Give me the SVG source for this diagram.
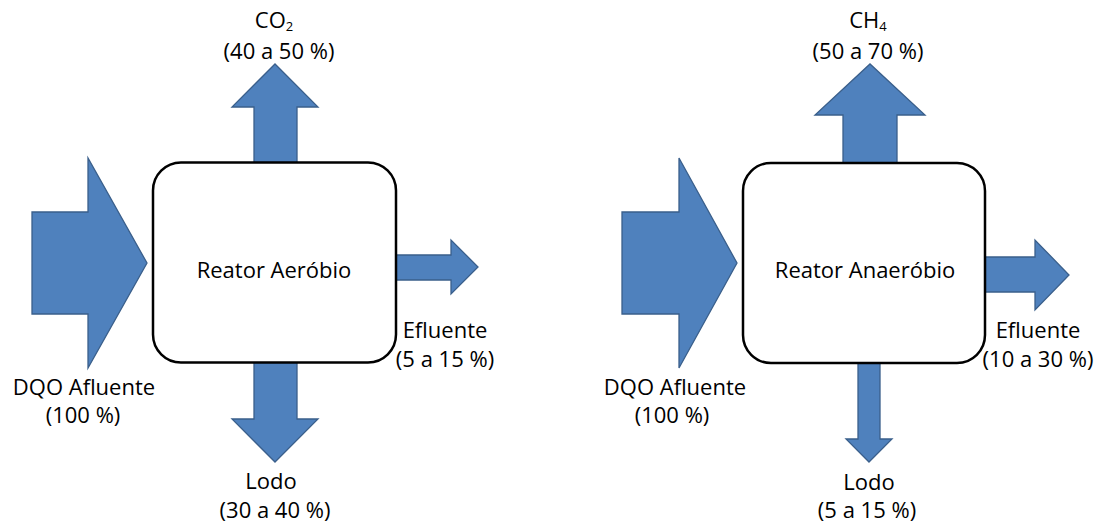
<svg xmlns="http://www.w3.org/2000/svg" width="1104" height="526" viewBox="0 0 1104 526">
  <style>
    .flow { fill: #4F81BD; stroke: #3A5F8B; stroke-width: 1.3; stroke-linejoin: miter; }
    .reactor { fill: #FFFFFF; stroke: #000000; stroke-width: 2.5; }
    .lbl { font-family: "Open Sans", "Liberation Sans", sans-serif; font-size: 22px; fill: #000000; text-anchor: middle; }
    .sub { font-size: 13px; }
  </style>
  <rect x="0" y="0" width="1104" height="526" fill="#FFFFFF"/>

  <!-- block arrows: inflow and outflows of each reactor -->
  <g id="connectors">
    <!-- aerobic reactor -->
    <polygon id="aer-in" class="flow" points="32,212 88,212 88,158 147,263 88,368 88,314 32,314"/>
    <polygon id="aer-gas" class="flow" points="254,163 254,107 232,107 275,64 318,107 297,107 297,163"/>
    <polygon id="aer-eff" class="flow" points="396,255 451,255 451,240 478,267 451,294 451,280 396,280"/>
    <polygon id="aer-sludge" class="flow" points="254,362 254,419 232,419 275,462 318,419 297,419 297,362"/>
    <!-- anaerobic reactor -->
    <polygon id="ana-in" class="flow" points="622,212 679,212 679,158 737,263 679,368 679,314 622,314"/>
    <polygon id="ana-gas" class="flow" points="843,163 843,115 815,115 870,64 925,115 897,115 897,163"/>
    <polygon id="ana-eff" class="flow" points="985,257 1035,257 1035,240 1069,275 1035,310 1035,292 985,292"/>
    <polygon id="ana-sludge" class="flow" points="858,362 858,439 846,439 869,462 892,439 880,439 880,362"/>
  </g>

  <g id="reator-aerobio">
    <rect class="reactor" x="153" y="162.5" width="243" height="200" rx="28" ry="28"/>
    <text class="lbl" x="274" y="278">Reator Aeróbio</text>
  </g>

  <g id="reator-anaerobio">
    <rect class="reactor" x="743" y="163" width="242" height="200" rx="28" ry="28"/>
    <text class="lbl" x="865" y="278">Reator Anaeróbio</text>
  </g>

  <!-- flow labels, aerobic -->
  <g id="labels-aerobio">
    <text class="lbl" x="274" y="28">CO<tspan class="sub" dy="3">2</tspan></text>
    <text class="lbl" x="279" y="59">(40 a 50 %)</text>
    <text class="lbl" x="445" y="338">Efluente</text>
    <text class="lbl" x="445" y="367">(5 a 15 %)</text>
    <text class="lbl" x="84" y="395">DQO Afluente</text>
    <text class="lbl" x="83" y="423">(100 %)</text>
    <text class="lbl" x="271" y="489">Lodo</text>
    <text class="lbl" x="275" y="518">(30 a 40 %)</text>
  </g>

  <!-- flow labels, anaerobic -->
  <g id="labels-anaerobio">
    <text class="lbl" x="868" y="28">CH<tspan class="sub" dy="3">4</tspan></text>
    <text class="lbl" x="868" y="59">(50 a 70 %)</text>
    <text class="lbl" x="1038" y="338">Efluente</text>
    <text class="lbl" x="1038" y="367">(10 a 30 %)</text>
    <text class="lbl" x="675" y="395">DQO Afluente</text>
    <text class="lbl" x="672" y="423">(100 %)</text>
    <text class="lbl" x="869" y="490">Lodo</text>
    <text class="lbl" x="867" y="518">(5 a 15 %)</text>
  </g>
</svg>
